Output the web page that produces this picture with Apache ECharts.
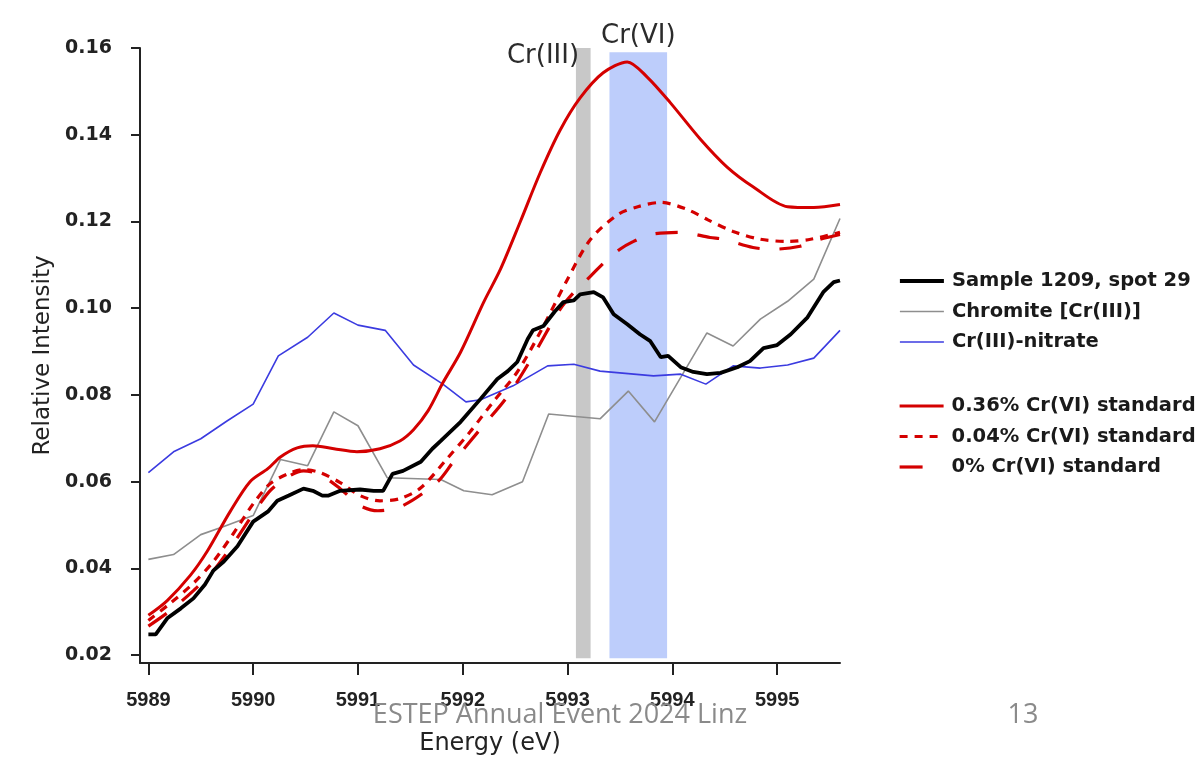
<!DOCTYPE html>
<html>
<head>
<meta charset="utf-8">
<script src="https://cdn.jsdelivr.net/npm/echarts@6/dist/echarts.min.js"></script>
<style>
  html, body { margin: 0; padding: 0; background: #ffffff; }
  #chart { width: 1202px; height: 761px; }
</style>
</head>
<body>
<div id="chart"></div>
<script>
// Cr K pre-edge XANES: sample spectrum against Cr(III) and Cr(VI) reference standards

const xTicks = [5989, 5990, 5991, 5992, 5993, 5994, 5995];
const yTicks = [0.02, 0.04, 0.06, 0.08, 0.10, 0.12, 0.14, 0.16];

// Sample 1209, spot 29
const sampleEnergy = [5989.00, 5989.07, 5989.18, 5989.31, 5989.43, 5989.54, 5989.62, 5989.72, 5989.85, 5990.00,
  5990.14, 5990.23, 5990.34, 5990.48, 5990.57, 5990.66, 5990.72, 5990.83, 5991.02, 5991.15,
  5991.24, 5991.33, 5991.43, 5991.60, 5991.71, 5991.79, 5991.98, 5992.17, 5992.33, 5992.43,
  5992.52, 5992.62, 5992.67, 5992.77, 5992.88, 5992.96, 5993.06, 5993.12, 5993.25, 5993.34,
  5993.44, 5993.57, 5993.69, 5993.79, 5993.89, 5993.96, 5994.08, 5994.20, 5994.33, 5994.46,
  5994.62, 5994.74, 5994.87, 5995.00, 5995.13, 5995.29, 5995.44, 5995.54, 5995.60];
const sampleIntensity = [0.0248, 0.0248, 0.0285, 0.0308, 0.0331, 0.0363, 0.0395, 0.0416, 0.0451, 0.0508,
  0.0531, 0.0556, 0.0568, 0.0584, 0.0579, 0.0568, 0.0568, 0.0579, 0.0582, 0.0579,
  0.0579, 0.0618, 0.0625, 0.0646, 0.0676, 0.0694, 0.0738, 0.0791, 0.0837, 0.0855,
  0.0876, 0.0929, 0.0949, 0.0959, 0.0993, 0.1014, 0.1018, 0.1032, 0.1037, 0.1025,
  0.0986, 0.0963, 0.0940, 0.0924, 0.0887, 0.0890, 0.0864, 0.0853, 0.0848, 0.0851,
  0.0864, 0.0878, 0.0908, 0.0915, 0.0940, 0.0979, 0.1037, 0.1060, 0.1064];

// Chromite [Cr(III)]
const chromiteEnergy = [5989.00, 5989.24, 5989.50, 5989.72, 5990.00, 5990.26, 5990.52, 5990.77, 5991.00, 5991.28,
  5991.79, 5992.01, 5992.28, 5992.57, 5992.82, 5993.31, 5993.58, 5993.83, 5994.33, 5994.58,
  5994.84, 5995.10, 5995.35, 5995.60];
const chromiteIntensity = [0.0421, 0.0432, 0.0478, 0.0497, 0.0522, 0.0651, 0.0637, 0.0761, 0.0729, 0.0609,
  0.0605, 0.0579, 0.0570, 0.0600, 0.0756, 0.0745, 0.0809, 0.0738, 0.0943, 0.0913,
  0.0975, 0.1016, 0.1067, 0.1207];

// Cr(III)-nitrate
const nitrateEnergy = [5989.00, 5989.24, 5989.50, 5989.75, 5990.00, 5990.24, 5990.52, 5990.77, 5991.00, 5991.26,
  5991.53, 5991.81, 5992.03, 5992.17, 5992.48, 5992.81, 5993.06, 5993.31, 5993.82, 5994.08,
  5994.32, 5994.58, 5994.84, 5995.10, 5995.35, 5995.60];
const nitrateIntensity = [0.0621, 0.0669, 0.0699, 0.0740, 0.0779, 0.0890, 0.0933, 0.0989, 0.0961, 0.0949,
  0.0869, 0.0825, 0.0784, 0.0789, 0.0821, 0.0867, 0.0871, 0.0855, 0.0844, 0.0848,
  0.0825, 0.0867, 0.0862, 0.0869, 0.0885, 0.0949];

// 0.36% Cr(VI) standard
const std036Energy = [5989.00, 5989.18, 5989.40, 5989.56, 5989.78, 5989.97, 5990.14, 5990.26, 5990.42, 5990.57,
  5990.77, 5990.99, 5991.21, 5991.40, 5991.53, 5991.67, 5991.81, 5991.98, 5992.20, 5992.36,
  5992.55, 5992.74, 5992.93, 5993.12, 5993.34, 5993.57, 5993.76, 5993.98, 5994.27, 5994.52,
  5994.77, 5995.10, 5995.35, 5995.60];
const std036Intensity = [0.0292, 0.0326, 0.0384, 0.0439, 0.0531, 0.0600, 0.0630, 0.0657, 0.0678, 0.0683,
  0.0676, 0.0669, 0.0676, 0.0694, 0.0720, 0.0764, 0.0828, 0.0899, 0.1014, 0.1090,
  0.1200, 0.1313, 0.1411, 0.1485, 0.1543, 0.1568, 0.1533, 0.1474, 0.1389, 0.1326,
  0.1280, 0.1234, 0.1232, 0.1239];

// 0.04% Cr(VI) standard
const std004Energy = [5989.00, 5989.21, 5989.43, 5989.62, 5989.81, 5990.00, 5990.16, 5990.33, 5990.48, 5990.64,
  5990.83, 5991.02, 5991.21, 5991.40, 5991.60, 5991.85, 5992.07, 5992.29, 5992.52, 5992.74,
  5993.00, 5993.22, 5993.48, 5993.67, 5993.89, 5994.14, 5994.33, 5994.58, 5994.84, 5995.10,
  5995.32, 5995.60];
const std004Intensity = [0.0280, 0.0320, 0.0366, 0.0416, 0.0480, 0.0549, 0.0595, 0.0618, 0.0628, 0.0621,
  0.0598, 0.0568, 0.0556, 0.0561, 0.0586, 0.0653, 0.0715, 0.0784, 0.0853, 0.0945,
  0.1067, 0.1159, 0.1216, 0.1234, 0.1244, 0.1228, 0.1205, 0.1177, 0.1159, 0.1154,
  0.1159, 0.1175];

// 0% Cr(VI) standard
const std0Energy = [5989.00, 5989.21, 5989.43, 5989.62, 5989.81, 5990.00, 5990.16, 5990.33, 5990.48, 5990.64,
  5990.83, 5991.02, 5991.19, 5991.43, 5991.76, 5991.91, 5992.17, 5992.43, 5992.67, 5992.93,
  5993.07, 5993.22, 5993.36, 5993.50, 5993.63, 5993.79, 5994.08, 5994.36, 5994.49, 5994.77,
  5994.96, 5995.22, 5995.41, 5995.60];
const std0Intensity = [0.0267, 0.0303, 0.0349, 0.0395, 0.0457, 0.0526, 0.0579, 0.0611, 0.0625, 0.0616,
  0.0584, 0.0545, 0.0533, 0.0545, 0.0600, 0.0646, 0.0722, 0.0798, 0.0890, 0.0998,
  0.1039, 0.1074, 0.1108, 0.1136, 0.1154, 0.1170, 0.1175, 0.1163, 0.1159, 0.1140,
  0.1136, 0.1143, 0.1159, 0.1170];

// Highlighted energy windows for the Cr(III) and Cr(VI) pre-edge features
const cr3Window = [5993.08, 5993.22];
const cr6Window = [5993.40, 5993.95];

const seriesNames = [
  'Sample 1209, spot 29',
  'Chromite [Cr(III)]',
  'Cr(III)-nitrate',
  '0.36% Cr(VI) standard',
  '0.04% Cr(VI) standard',
  '0% Cr(VI) standard'
];

function pairs(energy, intensity) {
  return energy.map((e, i) => [e, intensity[i]]);
}

const labelFont = 'DejaVu Sans';
const axisColor = '#222222';

const chart = echarts.init(document.getElementById('chart'), null, { renderer: 'canvas' });

const legendBase = {
  orient: 'vertical',
  left: 893,
  itemWidth: 44,
  itemHeight: 14,
  itemGap: 10.5,
  selectedMode: false,
  lineStyle: { width: 'inherit' },
  itemStyle: { opacity: 0 },
  textStyle: {
    fontFamily: labelFont,
    fontWeight: 'bold',
    fontSize: 19.5,
    lineHeight: 20,
    color: '#1a1a1a',
    padding: [0, 0, 0, 3]
  }
};

const option = {
  animation: false,
  backgroundColor: '#ffffff',
  grid: { left: 140, right: 362, top: 48, bottom: 96, containLabel: false },
  xAxis: {
    type: 'value',
    min: 5988.92,
    max: 5995.6,
    name: 'Energy (eV)',
    nameLocation: 'middle',
    nameGap: 69,
    nameTextStyle: { fontFamily: labelFont, fontSize: 24, color: axisColor },
    axisLine: { show: true, onZero: false, lineStyle: { color: axisColor, width: 2 } },
    axisTick: { show: true, length: 12, lineStyle: { color: axisColor, width: 2 }, customValues: xTicks },
    axisLabel: {
      show: true, margin: 27, customValues: xTicks,
      fontFamily: 'Liberation Sans', fontWeight: 'bold', fontSize: 20, color: axisColor,
      formatter: v => String(Math.round(v))
    },
    splitLine: { show: false }
  },
  yAxis: {
    type: 'value',
    min: 0.0182,
    max: 0.16,
    name: 'Relative Intensity',
    nameLocation: 'middle',
    nameGap: 80,
    nameTextStyle: { fontFamily: labelFont, fontSize: 23, color: axisColor },
    axisLine: { show: true, onZero: false, lineStyle: { color: axisColor, width: 2 } },
    axisTick: { show: true, length: 9, lineStyle: { color: axisColor, width: 2 }, customValues: yTicks },
    axisLabel: {
      show: true, margin: 28, customValues: yTicks,
      fontFamily: labelFont, fontWeight: 'bold', fontSize: 19, color: axisColor,
      formatter: v => v.toFixed(2)
    },
    splitLine: { show: false }
  },
  legend: [
    Object.assign({}, legendBase, { top: 266, data: seriesNames.slice(0, 3) }),
    Object.assign({}, legendBase, {
      top: 391,
      data: [
        seriesNames[3],
        seriesNames[4],
        { name: seriesNames[5], lineStyle: { type: [23, 30] } }
      ]
    })
  ],
  graphic: [
    {
      type: 'text', x: 560, y: 715, z: 100,
      style: {
        text: 'ESTEP Annual Event 2024 Linz',
        font: '27px "Open Sans"', fill: '#8a8a8a',
        align: 'center', verticalAlign: 'middle'
      }
    },
    {
      type: 'text', x: 1023, y: 715, z: 100,
      style: {
        text: '13',
        font: '27px "Open Sans"', fill: '#8a8a8a',
        align: 'center', verticalAlign: 'middle'
      }
    }
  ],
  series: [
    {
      name: seriesNames[1], type: 'line', symbol: 'none', z: 2,
      data: pairs(chromiteEnergy, chromiteIntensity),
      lineStyle: { color: '#8e8e8e', width: 1.6 },
      itemStyle: { color: '#8e8e8e' },
      markArea: {
        silent: true,
        data: [
          [
            {
              name: 'Cr(III)', xAxis: cr3Window[0], yAxis: 0.0193,
              itemStyle: { color: '#c8c8c8' },
              label: {
                show: true, position: [-69, -5], align: 'left', verticalAlign: 'top',
                fontFamily: labelFont, fontSize: 26, color: '#2b2b2b'
              }
            },
            { xAxis: cr3Window[1], yAxis: 0.16 }
          ],
          [
            {
              name: 'Cr(VI)', xAxis: cr6Window[0], yAxis: 0.0193,
              itemStyle: { color: '#bdcdfb' },
              label: {
                show: true, position: 'top', distance: 3,
                fontFamily: labelFont, fontSize: 26, color: '#2b2b2b'
              }
            },
            { xAxis: cr6Window[1], yAxis: 0.159 }
          ]
        ]
      }
    },
    {
      name: seriesNames[2], type: 'line', symbol: 'none', z: 3,
      data: pairs(nitrateEnergy, nitrateIntensity),
      lineStyle: { color: '#3b3be0', width: 1.6 },
      itemStyle: { color: '#3b3be0' }
    },
    {
      name: seriesNames[5], type: 'line', symbol: 'none', z: 4, smooth: 0.3,
      data: pairs(std0Energy, std0Intensity),
      lineStyle: { color: '#d40000', width: 3.2, type: [22, 20] },
      itemStyle: { color: '#d40000' }
    },
    {
      name: seriesNames[4], type: 'line', symbol: 'none', z: 4, smooth: 0.3,
      data: pairs(std004Energy, std004Intensity),
      lineStyle: { color: '#d40000', width: 3.2, type: [8, 7] },
      itemStyle: { color: '#d40000' }
    },
    {
      name: seriesNames[3], type: 'line', symbol: 'none', z: 5, smooth: 0.3,
      data: pairs(std036Energy, std036Intensity),
      lineStyle: { color: '#d40000', width: 3 },
      itemStyle: { color: '#d40000' }
    },
    {
      name: seriesNames[0], type: 'line', symbol: 'none', z: 6,
      data: pairs(sampleEnergy, sampleIntensity),
      lineStyle: { color: '#000000', width: 3.8 },
      itemStyle: { color: '#000000' }
    }
  ]
};

chart.setOption(option);
</script>
</body>
</html>
